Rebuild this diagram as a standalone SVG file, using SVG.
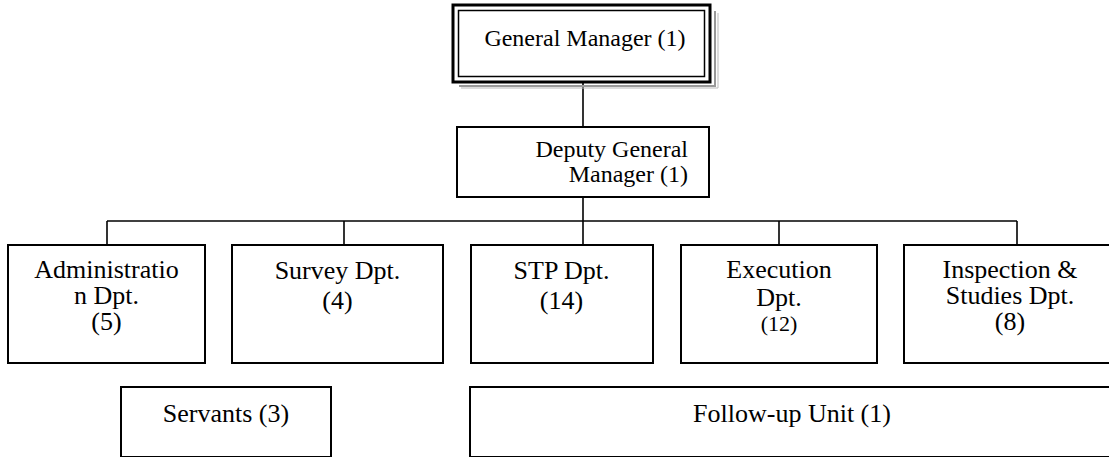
<svg xmlns="http://www.w3.org/2000/svg" width="1109" height="457" viewBox="0 0 1109 457">
<style>
.box{fill:#fff;stroke:#000;stroke-width:2}
.t{font-family:"Liberation Serif","Times New Roman",serif;font-size:26px;fill:#000;text-anchor:middle}
.g{font-size:24px}
.c{stroke:#000;stroke-width:1.6;fill:none}
</style>
<rect width="1109" height="457" fill="#fff"/>
<g id="connectors">
<line class="c" x1="583" y1="82" x2="583" y2="127"/>
<line class="c" x1="583" y1="197" x2="583" y2="245"/>
<line class="c" x1="107" y1="221" x2="1017" y2="221"/>
<line class="c" x1="107" y1="221" x2="107" y2="245"/>
<line class="c" x1="344" y1="221" x2="344" y2="245"/>
<line class="c" x1="779" y1="221" x2="779" y2="245"/>
<line class="c" x1="1017" y1="221" x2="1017" y2="245"/>
</g>
<g id="gm">
<polyline points="715,11 715,86 459,86" fill="none" stroke="#999" stroke-width="2"/>
<polyline points="718,13 718,88 461,88" fill="none" stroke="#bbb" stroke-width="1"/>
<rect x="453" y="5" width="257" height="77" fill="#fff" stroke="#000" stroke-width="3"/>
<rect x="458.5" y="10.5" width="246" height="66" fill="none" stroke="#000" stroke-width="1.5"/>
<text class="t g" x="585" y="46">General Manager (1)</text>
</g>
<g id="dgm">
<rect class="box" x="457" y="127" width="252" height="70"/>
<text class="t g" x="688" y="157" text-anchor="end" style="text-anchor:end">Deputy General</text>
<text class="t g" x="688" y="182" style="text-anchor:end">Manager (1)</text>
</g>
<g id="admin">
<rect class="box" x="8" y="245" width="197" height="118"/>
<text class="t" x="106.5" y="278">Administratio</text>
<text class="t" x="106.5" y="304">n Dpt.</text>
<text class="t" x="106.5" y="330">(5)</text>
</g>
<g id="survey">
<rect class="box" x="232" y="245" width="211" height="118"/>
<text class="t" x="337.5" y="279">Survey Dpt.</text>
<text class="t" x="337.5" y="309">(4)</text>
</g>
<g id="stp">
<rect class="box" x="471" y="245" width="182" height="118"/>
<text class="t" x="561.5" y="279">STP Dpt.</text>
<text class="t" x="561.5" y="309">(14)</text>
</g>
<g id="execution">
<rect class="box" x="681" y="245" width="196" height="118"/>
<text class="t" x="779" y="278">Execution</text>
<text class="t" x="779" y="306">Dpt.</text>
<text class="t" x="779" y="331" font-size="22" style="font-size:22px">(12)</text>
</g>
<g id="inspection">
<rect class="box" x="904" y="245" width="215" height="118"/>
<text class="t" x="1010" y="278">Inspection &amp;</text>
<text class="t" x="1010" y="304">Studies Dpt.</text>
<text class="t" x="1010" y="330">(8)</text>
</g>
<g id="servants">
<rect class="box" x="121" y="387" width="210" height="70"/>
<text class="t" x="226" y="422">Servants (3)</text>
</g>
<g id="followup">
<rect class="box" x="470" y="387" width="650" height="70"/>
<text class="t" x="792" y="422">Follow-up Unit (1)</text>
</g>
</svg>
